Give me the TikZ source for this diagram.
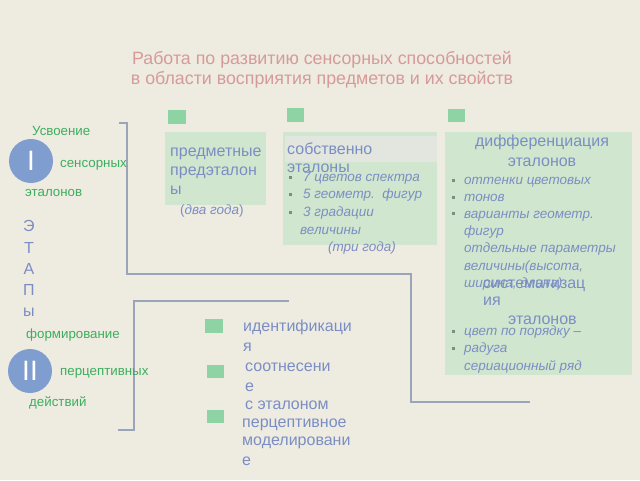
\documentclass[tikz,border=0pt]{standalone}
\usepackage{fontspec}
\setmainfont{Liberation Sans}
\definecolor{bg}{HTML}{EEEBE1}
\definecolor{titleC}{HTML}{D69A98}
\definecolor{blueT}{HTML}{7A8EC4}
\definecolor{blueH}{HTML}{6F86BE}
\definecolor{greenT}{HTML}{3DAE5E}
\definecolor{circC}{HTML}{7F9ECF}
\definecolor{sqC}{HTML}{8DD3A3}
\definecolor{cardC}{HTML}{D1E6CE}
\definecolor{cardH}{HTML}{E2E6DE}
\definecolor{lineC}{HTML}{9AA5BA}
\definecolor{dotC}{HTML}{808C80}
\tikzset{
  hd/.style={anchor=base west, inner sep=0, text=blueH, font=\fontsize{16}{18}\selectfont},
  it/.style={anchor=base west, inner sep=0, text=blueT, font=\fontsize{13.5}{15}\selectfont\itshape},
  gr/.style={anchor=base west, inner sep=0, text=greenT, font=\fontsize{13.3}{15}\selectfont},
  et/.style={anchor=base, inner sep=0, text=blueT, font=\fontsize{16}{18}\selectfont},
  bt/.style={anchor=base west, inner sep=0, text=blueT, font=\fontsize{16}{18}\selectfont},
  sq/.style={fill=sqC, draw=none},
  card/.style={fill=cardC, draw=none},
  brk/.style={draw=lineC, line width=1.5pt},
  circ/.style={circle, fill=circC, minimum size=44pt, inner sep=0, text=white, font=\fontsize{28}{30}\selectfont},
  bul/.style={fill=dotC, draw=none, minimum size=3pt, inner sep=0}
}
\begin{document}
\begin{tikzpicture}[x=1pt,y=-1pt]
\fill[bg] (0,0) rectangle (640,480);
\useasboundingbox (0,0) rectangle (640,480);

% title
\node[anchor=base, inner sep=0, text=titleC, font=\fontsize{17.8}{20}\selectfont] (t1) at (322,64) {Работа по развитию сенсорных способностей};
\node[anchor=base, inner sep=0, text=titleC, font=\fontsize{17.8}{20}\selectfont] (t2) at (322,84) {в области восприятия предметов и их свойств};

% brackets
\coordinate (a1) at (119,123); \coordinate (a2) at (127,123); \coordinate (a3) at (127,274);
\coordinate (a4) at (411,274); \coordinate (a5) at (411,402); \coordinate (a6) at (530,402);
\draw[brk] (a1) -- (a2) -- (a3) -- (a4) -- (a5) -- (a6);
\coordinate (b1) at (118,430); \coordinate (b2) at (134,430); \coordinate (b3) at (134,301); \coordinate (b4) at (289,301);
\draw[brk] (b1) -- (b2) -- (b3) -- (b4);

% left labels
\node[circ] (c1) at (31,161) {I};
\node[circ] (c2) at (30,371) {II};
\node[gr] (g1) at (32,135) {Усвоение};
\node[gr] (g2) at (60,167) {сенсорных};
\node[gr] (g3) at (25,196) {эталонов};
\node[gr] (g4) at (26,338) {формирование};
\node[gr] (g5) at (60,375) {перцептивных};
\node[gr] (g6) at (29,406) {действий};
\node[et] (e1) at (29,231) {Э};
\node[et] (e2) at (29,253) {Т};
\node[et] (e3) at (29,274) {А};
\node[et] (e4) at (29,295) {П};
\node[et] (e5) at (29,316) {ы};

% card 1
\fill[sq] (168,110) rectangle (186,124);
\fill[card] (165,132) rectangle (266,205);
\node[bt] (p1) at (170,156) {предметные};
\node[bt] (p2) at (170,175) {предэталон};
\node[bt] (p3) at (170,194) {ы};
\node[anchor=base west, inner sep=0, text=blueT, font=\fontsize{13.5}{15}\selectfont] (p4) at (180,214) {(\textit{два года})};

% card 2
\fill[sq] (287,108) rectangle (304,122);
\fill[card] (283,132) rectangle (437,245);
\fill[cardH] (285,136) rectangle (437,162);
\node[bt] (s1) at (287,154) {собственно};
\node[bt] (s2) at (287,172) {эталоны};
\node[bul] (sb1) at (290,177) {};
\node[bul] (sb2) at (290,194) {};
\node[bul] (sb3) at (290,212) {};
\node[it] (s3) at (303,181) {7 цветов спектра};
\node[it] (s4) at (303,198) {5 геометр.\ \ фигур};
\node[it] (s5) at (303,216) {3 градации};
\node[it] (s6) at (300,234) {величины};
\node[it, anchor=base] (s7) at (362,251) {(три года)};

% card 3
\fill[sq] (448,109) rectangle (465,122);
\fill[card] (445,132) rectangle (632,375);
\node[bt, anchor=base] (d1) at (542,146) {дифференциация};
\node[bt, anchor=base] (d2) at (542,166) {эталонов};
\node[bul] (db1) at (453,180) {};
\node[bul] (db2) at (453,197) {};
\node[bul] (db3) at (453,213) {};
\node[it] (d3) at (464,184) {оттенки цветовых};
\node[it] (d4) at (464,201) {тонов};
\node[it] (d5) at (464,218) {варианты геометр.};
\node[it] (d6) at (464,235) {фигур};
\node[it] (d7) at (464,252) {отдельные параметры};
\node[it] (d8) at (464,270) {величины(высота,};
\node[it] (d9) at (464,287) {ширина, длина)};
\node[bt] (d10) at (483,288) {систематизац};
\node[bt] (d11) at (483,305) {ия};
\node[bt] (d12) at (508,324) {эталонов};
\node[bul] (db4) at (453,331) {};
\node[bul] (db5) at (453,348) {};
\node[it] (d13) at (464,335) {цвет по порядку –};
\node[it] (d14) at (464,352) {радуга};
\node[it] (d15) at (464,370) {сериационный ряд};

% bottom list
\fill[sq] (205,319) rectangle (223,333);
\fill[sq] (207,365) rectangle (224,378);
\fill[sq] (207,410) rectangle (224,423);
\node[bt] (i1) at (243,331) {идентификаци};
\node[bt] (i2) at (243,351) {я};
\node[bt] (i3) at (245,371) {соотнесени};
\node[bt] (i4) at (245,391) {е};
\node[bt] (i5) at (245,409) {с эталоном};
\node[bt] (i6) at (242,427) {перцептивное};
\node[bt] (i7) at (242,445) {моделировани};
\node[bt] (i8) at (242,465) {е};
\end{tikzpicture}
\end{document}
